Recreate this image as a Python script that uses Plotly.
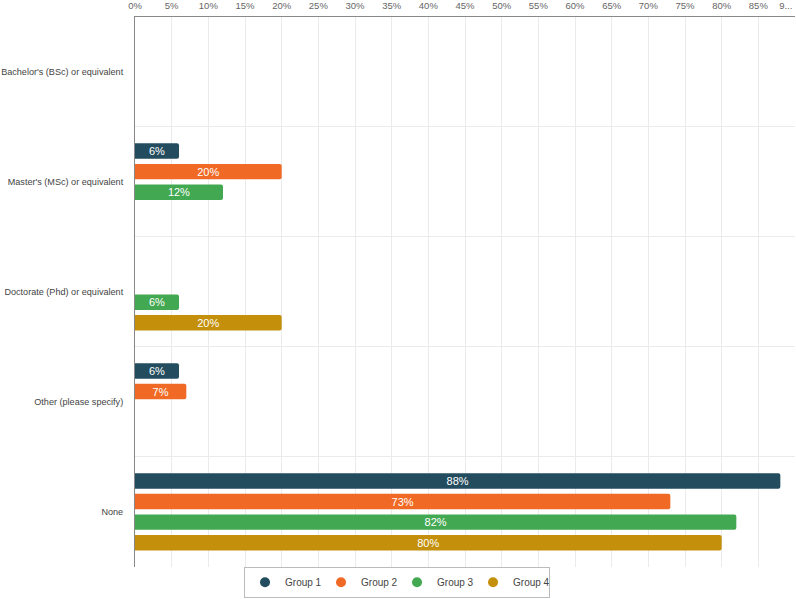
from plotly import graph_objects as go

categories = [
    "Bachelor's (BSc) or equivalent",
    "Master's (MSc) or equivalent",
    "Doctorate (Phd) or equivalent",
    "Other (please specify)",
    "None",
]
group_names = ["Group 1", "Group 2", "Group 3", "Group 4"]
# percentages per category, None = no answer in that group
group_1 = [None, 6, None, 6, 88]
group_2 = [None, 20, None, 7, 73]
group_3 = [None, 12, 6, None, 82]
group_4 = [None, None, 20, None, 80]
tick_values = list(range(0, 95, 5))
# last label is cut short in the original, padded so it stays on the page
tick_labels = [f"{v}%" for v in tick_values[:-1]] + ["9..." + "\u00a0" * 7]

colors = ["#234d5e", "#f06a25", "#43a852", "#c48f0a"]
series = [group_1, group_2, group_3, group_4]

fig = go.Figure()
for name, values, color in zip(group_names, series, colors):
    fig.add_trace(go.Bar(
        y=categories,
        x=values,
        name=name,
        orientation="h",
        marker=dict(color=color, line=dict(width=0)),
        text=[f"{v}%" if v is not None else "" for v in values],
        textposition="inside",
        insidetextanchor="middle",
        textangle=0,
        constraintext="none",
        textfont=dict(color="white", size=11),
        showlegend=False,
        hoverinfo="skip",
    ))
    # circle symbols for the legend
    fig.add_trace(go.Scatter(
        x=[None], y=[None],
        mode="markers",
        name=name,
        marker=dict(color=color, size=10, symbol="circle"),
    ))

fig.update_layout(
    width=796,
    height=599,
    margin=dict(l=135, r=1, t=17, b=31),
    plot_bgcolor="white",
    paper_bgcolor="white",
    font=dict(family="Liberation Sans, Arial, sans-serif", color="#444", size=10),
    barmode="group",
    bargap=0.25,
    bargroupgap=0.25,
    barcornerradius=2,
    xaxis=dict(
        side="top",
        range=[0, 90],
        tickvals=tick_values,
        ticktext=tick_labels,
        showgrid=True,
        gridcolor="#ebebeb",
        showline=True,
        linecolor="#888",
        linewidth=1,
        zeroline=False,
        ticks="",
        ticklabelstandoff=3,
        ticklabeloverflow="allow",
        tickfont=dict(size=9.5, color="#666"),
        automargin=False,
        fixedrange=True,
    ),
    yaxis=dict(
        type="category",
        autorange="reversed",
        tickson="boundaries",
        showgrid=True,
        gridcolor="#ebebeb",
        showline=True,
        linecolor="#888",
        linewidth=1,
        ticks="",
        ticklabelstandoff=9,
        tickfont=dict(size=9.1, color="#444"),
        automargin=False,
        fixedrange=True,
    ),
    legend=dict(
        orientation="h",
        xref="paper",
        x=0.397,
        xanchor="center",
        yref="container",
        y=0.002,
        yanchor="bottom",
        bgcolor="rgba(0,0,0,0)",
        bordercolor="#bbb",
        borderwidth=1,
        font=dict(size=10, color="#444"),
        itemwidth=30,
        entrywidth=31,
    ),
)

# drop the default page margin so the figure sits at the window's corner
fig.write_html(
    "out.html",
    config={"displayModeBar": False},
    post_script="document.body.style.margin='0';",
)
